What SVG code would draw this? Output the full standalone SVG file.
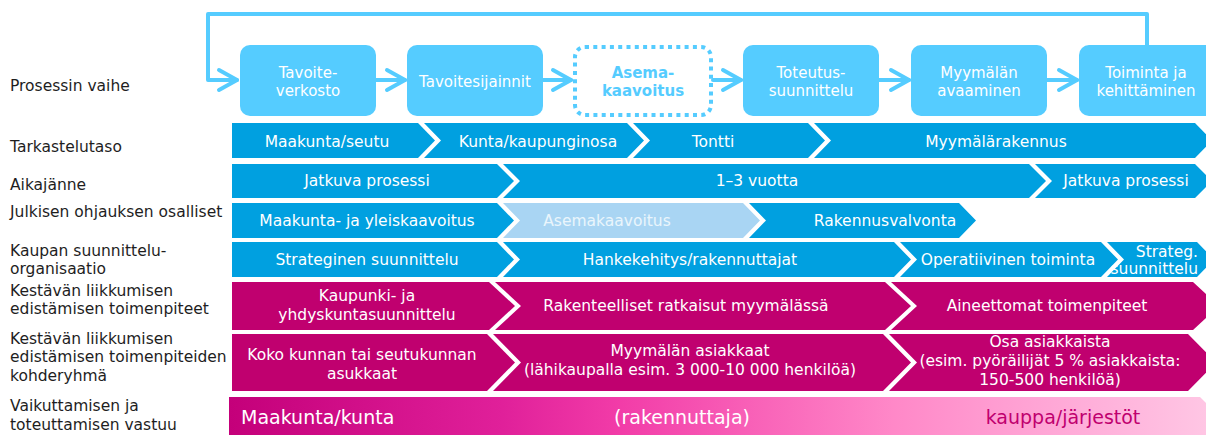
<svg xmlns="http://www.w3.org/2000/svg" width="1206" height="435" viewBox="0 0 1206 435">
<style>
.lbl{font-family:"DejaVu Sans",Verdana,sans-serif;font-size:15.5px;fill:#1e1e1e}
.box{fill:#55CCFF}
.bt{font-family:"DejaVu Sans",Verdana,sans-serif;font-size:15px;fill:#ffffff;text-anchor:middle}
.blue{fill:#00A0E0}
.lblue{fill:#A9D5F3}
.mag{fill:#C0006F}
.ct{font-family:"DejaVu Sans",Verdana,sans-serif;font-size:15.5px;fill:#ffffff;text-anchor:middle}
.conn{fill:none;stroke:#55CCFF;stroke-width:4;stroke-linejoin:round;stroke-linecap:round}
</style>
<defs>
<marker id="ah" markerUnits="userSpaceOnUse" markerWidth="30" markerHeight="30" refX="0" refY="0" orient="auto" overflow="visible">
<path d="M-18,-10 L0,0 L-18,10" fill="none" stroke="#55CCFF" stroke-width="4" stroke-linecap="round" stroke-linejoin="round"/>
</marker>
<linearGradient id="grad" gradientUnits="userSpaceOnUse" x1="229" y1="0" x2="1206" y2="0">
<stop offset="0" stop-color="#C4007A"/>
<stop offset="0.28" stop-color="#E0209A"/>
<stop offset="0.4" stop-color="#F23CA8"/>
<stop offset="0.68" stop-color="#FF88C8"/>
<stop offset="1" stop-color="#FFC6E4"/>
</linearGradient>
</defs>
<rect width="1206" height="435" fill="#ffffff"/>

<g id="labels">
<text class="lbl" x="10" y="91">Prosessin vaihe</text>
<text class="lbl" x="10" y="152">Tarkastelutaso</text>
<text class="lbl" x="10" y="190">Aikajänne</text>
<text class="lbl" x="10" y="217">Julkisen ohjauksen osalliset</text>
<text class="lbl" x="10" y="256">Kaupan suunnittelu-</text>
<text class="lbl" x="10" y="274">organisaatio</text>
<text class="lbl" x="10" y="296">Kestävän liikkumisen</text>
<text class="lbl" x="10" y="314">edistämisen toimenpiteet</text>
<text class="lbl" x="10" y="344">Kestävän liikkumisen</text>
<text class="lbl" x="10" y="362">edistämisen toimenpiteiden</text>
<text class="lbl" x="10" y="381">kohderyhmä</text>
<text class="lbl" x="10" y="411">Vaikuttamisen ja</text>
<text class="lbl" x="10" y="430">toteuttamisen vastuu</text>
</g>

<g id="connectors">
<path class="conn" d="M1147,46 V14 H208 V80 H237" marker-end="url(#ah)"/>
<path class="conn" d="M376,80 H405" marker-end="url(#ah)"/>
<path class="conn" d="M543,80 H571" marker-end="url(#ah)"/>
<path class="conn" d="M713,80 H741" marker-end="url(#ah)"/>
<path class="conn" d="M879,80 H909" marker-end="url(#ah)"/>
<path class="conn" d="M1047,80 H1077" marker-end="url(#ah)"/>
</g>

<g id="p1"><rect class="box" x="240" y="45" width="136" height="71" rx="10"/><text class="bt" x="308" y="78">Tavoite-</text><text class="bt" x="308" y="96">verkosto</text></g>
<g id="p2"><rect class="box" x="407" y="45" width="136" height="71" rx="10"/><text class="bt" x="475" y="87">Tavoitesijainnit</text></g>
<g id="p3"><rect x="575" y="47" width="136" height="68" rx="10" fill="none" stroke="#55CCFF" stroke-width="4" stroke-dasharray="4 4.3"/><text class="bt" x="643" y="78" style="fill:#55CCFF;font-weight:bold">Asema-</text><text class="bt" x="643" y="96" style="fill:#55CCFF;font-weight:bold">kaavoitus</text></g>
<g id="p4"><rect class="box" x="743" y="45" width="136" height="71" rx="10"/><text class="bt" x="811" y="78">Toteutus-</text><text class="bt" x="811" y="96">suunnittelu</text></g>
<g id="p5"><rect class="box" x="911" y="45" width="136" height="71" rx="10"/><text class="bt" x="979" y="78">Myymälän</text><text class="bt" x="979" y="96">avaaminen</text></g>
<g id="p6"><rect class="box" x="1079" y="45" width="136" height="71" rx="10"/><text class="bt" x="1146" y="78">Toiminta ja</text><text class="bt" x="1146" y="96">kehittäminen</text></g>

<g id="row1">
<polygon class="blue" points="232,123 418,123 435,140.5 418,158 232,158"/>
<polygon class="blue" points="424,123 627,123 644,140.5 627,158 424,158 441,140.5"/>
<polygon class="blue" points="633,123 808,123 825,140.5 808,158 633,158 650,140.5"/>
<polygon class="blue" points="814,123 1195,123 1212,140.5 1195,158 814,158 831,140.5"/>
<text class="ct" x="327" y="147">Maakunta/seutu</text>
<text class="ct" x="538" y="147">Kunta/kaupunginosa</text>
<text class="ct" x="713" y="147">Tontti</text>
<text class="ct" x="996" y="147">Myymälärakennus</text>
</g>

<g id="row2">
<polygon class="blue" points="232,164 497,164 514,181 497,198 232,198"/>
<polygon class="blue" points="503,164 1029,164 1046,181 1029,198 503,198 520,181"/>
<polygon class="blue" points="1035,164 1195,164 1212,181 1195,198 1035,198 1052,181"/>
<text class="ct" x="367" y="186">Jatkuva prosessi</text>
<text class="ct" x="757" y="186">1–3 vuotta</text>
<text class="ct" x="1126" y="186">Jatkuva prosessi</text>
</g>

<g id="row3">
<polygon class="blue" points="232,203 497,203 514,220.5 497,238 232,238"/>
<polygon class="lblue" points="503,203 743,203 760,220.5 743,238 503,238 520,220.5"/>
<polygon class="blue" points="749,203 959,203 976,220.5 959,238 749,238 766,220.5"/>
<text class="ct" x="367" y="226">Maakunta- ja yleiskaavoitus</text>
<text class="ct" x="607" y="226" style="fill:#EAF5FC">Asemakaavoitus</text>
<text class="ct" x="885" y="226">Rakennusvalvonta</text>
</g>

<g id="row4">
<polygon class="blue" points="232,242 497,242 514,259.5 497,277 232,277"/>
<polygon class="blue" points="503,242 894,242 911,259.5 894,277 503,277 520,259.5"/>
<polygon class="blue" points="900,242 1101,242 1118,259.5 1101,277 900,277 917,259.5"/>
<polygon class="blue" points="1107,242 1197,242 1214,259.5 1197,277 1107,277 1124,259.5"/>
<text class="ct" x="367" y="265">Strateginen suunnittelu</text>
<text class="ct" x="690" y="265">Hankekehitys/rakennuttajat</text>
<text class="ct" x="1008" y="265">Operatiivinen toiminta</text>
<text class="ct" x="1198" y="257" style="text-anchor:end">Strateg.</text>
<text class="ct" x="1198" y="274" style="text-anchor:end">suunnittelu</text>
</g>

<g id="row5">
<polygon class="mag" points="232,282 489,282 515,306 489,330 232,330"/>
<polygon class="mag" points="495,282 885,282 911,306 885,330 495,330 521,306"/>
<polygon class="mag" points="891,282 1193,282 1219,306 1193,330 891,330 917,306"/>
<text class="ct" x="367" y="301">Kaupunki- ja</text>
<text class="ct" x="367" y="320">yhdyskuntasuunnittelu</text>
<text class="ct" x="686" y="311">Rakenteelliset ratkaisut myymälässä</text>
<text class="ct" x="1047" y="311">Aineettomat toimenpiteet</text>
</g>

<g id="row6">
<polygon class="mag" points="232,334 487,334 515,362.5 487,391 232,391"/>
<polygon class="mag" points="493,334 883,334 911,362.5 883,391 493,391 521,362.5"/>
<polygon class="mag" points="889,334 1188,334 1216,362.5 1188,391 889,391 917,362.5"/>
<text class="ct" x="362" y="360">Koko kunnan tai seutukunnan</text>
<text class="ct" x="362" y="379">asukkaat</text>
<text class="ct" x="690" y="356">Myymälän asiakkaat</text>
<text class="ct" x="690" y="375">(lähikaupalla esim. 3 000-10 000 henkilöä)</text>
<text class="ct" x="1050" y="347">Osa asiakkaista</text>
<text class="ct" x="1050" y="366">(esim. pyöräilijät 5 % asiakkaista:</text>
<text class="ct" x="1050" y="385">150-500 henkilöä)</text>
</g>

<g id="row7">
<polygon fill="url(#grad)" points="229,397 1200,397 1222,419 1200,441 229,441"/>
<text x="241" y="424" style="font-family:'DejaVu Sans',Verdana,sans-serif;font-size:19px;fill:#ffffff">Maakunta/kunta</text>
<text x="682" y="424" style="font-family:'DejaVu Sans',Verdana,sans-serif;font-size:19px;fill:#ffffff;text-anchor:middle">(rakennuttaja)</text>
<text x="1063" y="424" style="font-family:'DejaVu Sans',Verdana,sans-serif;font-size:19px;fill:#C0006F;text-anchor:middle">kauppa/järjestöt</text>
</g>
</svg>
